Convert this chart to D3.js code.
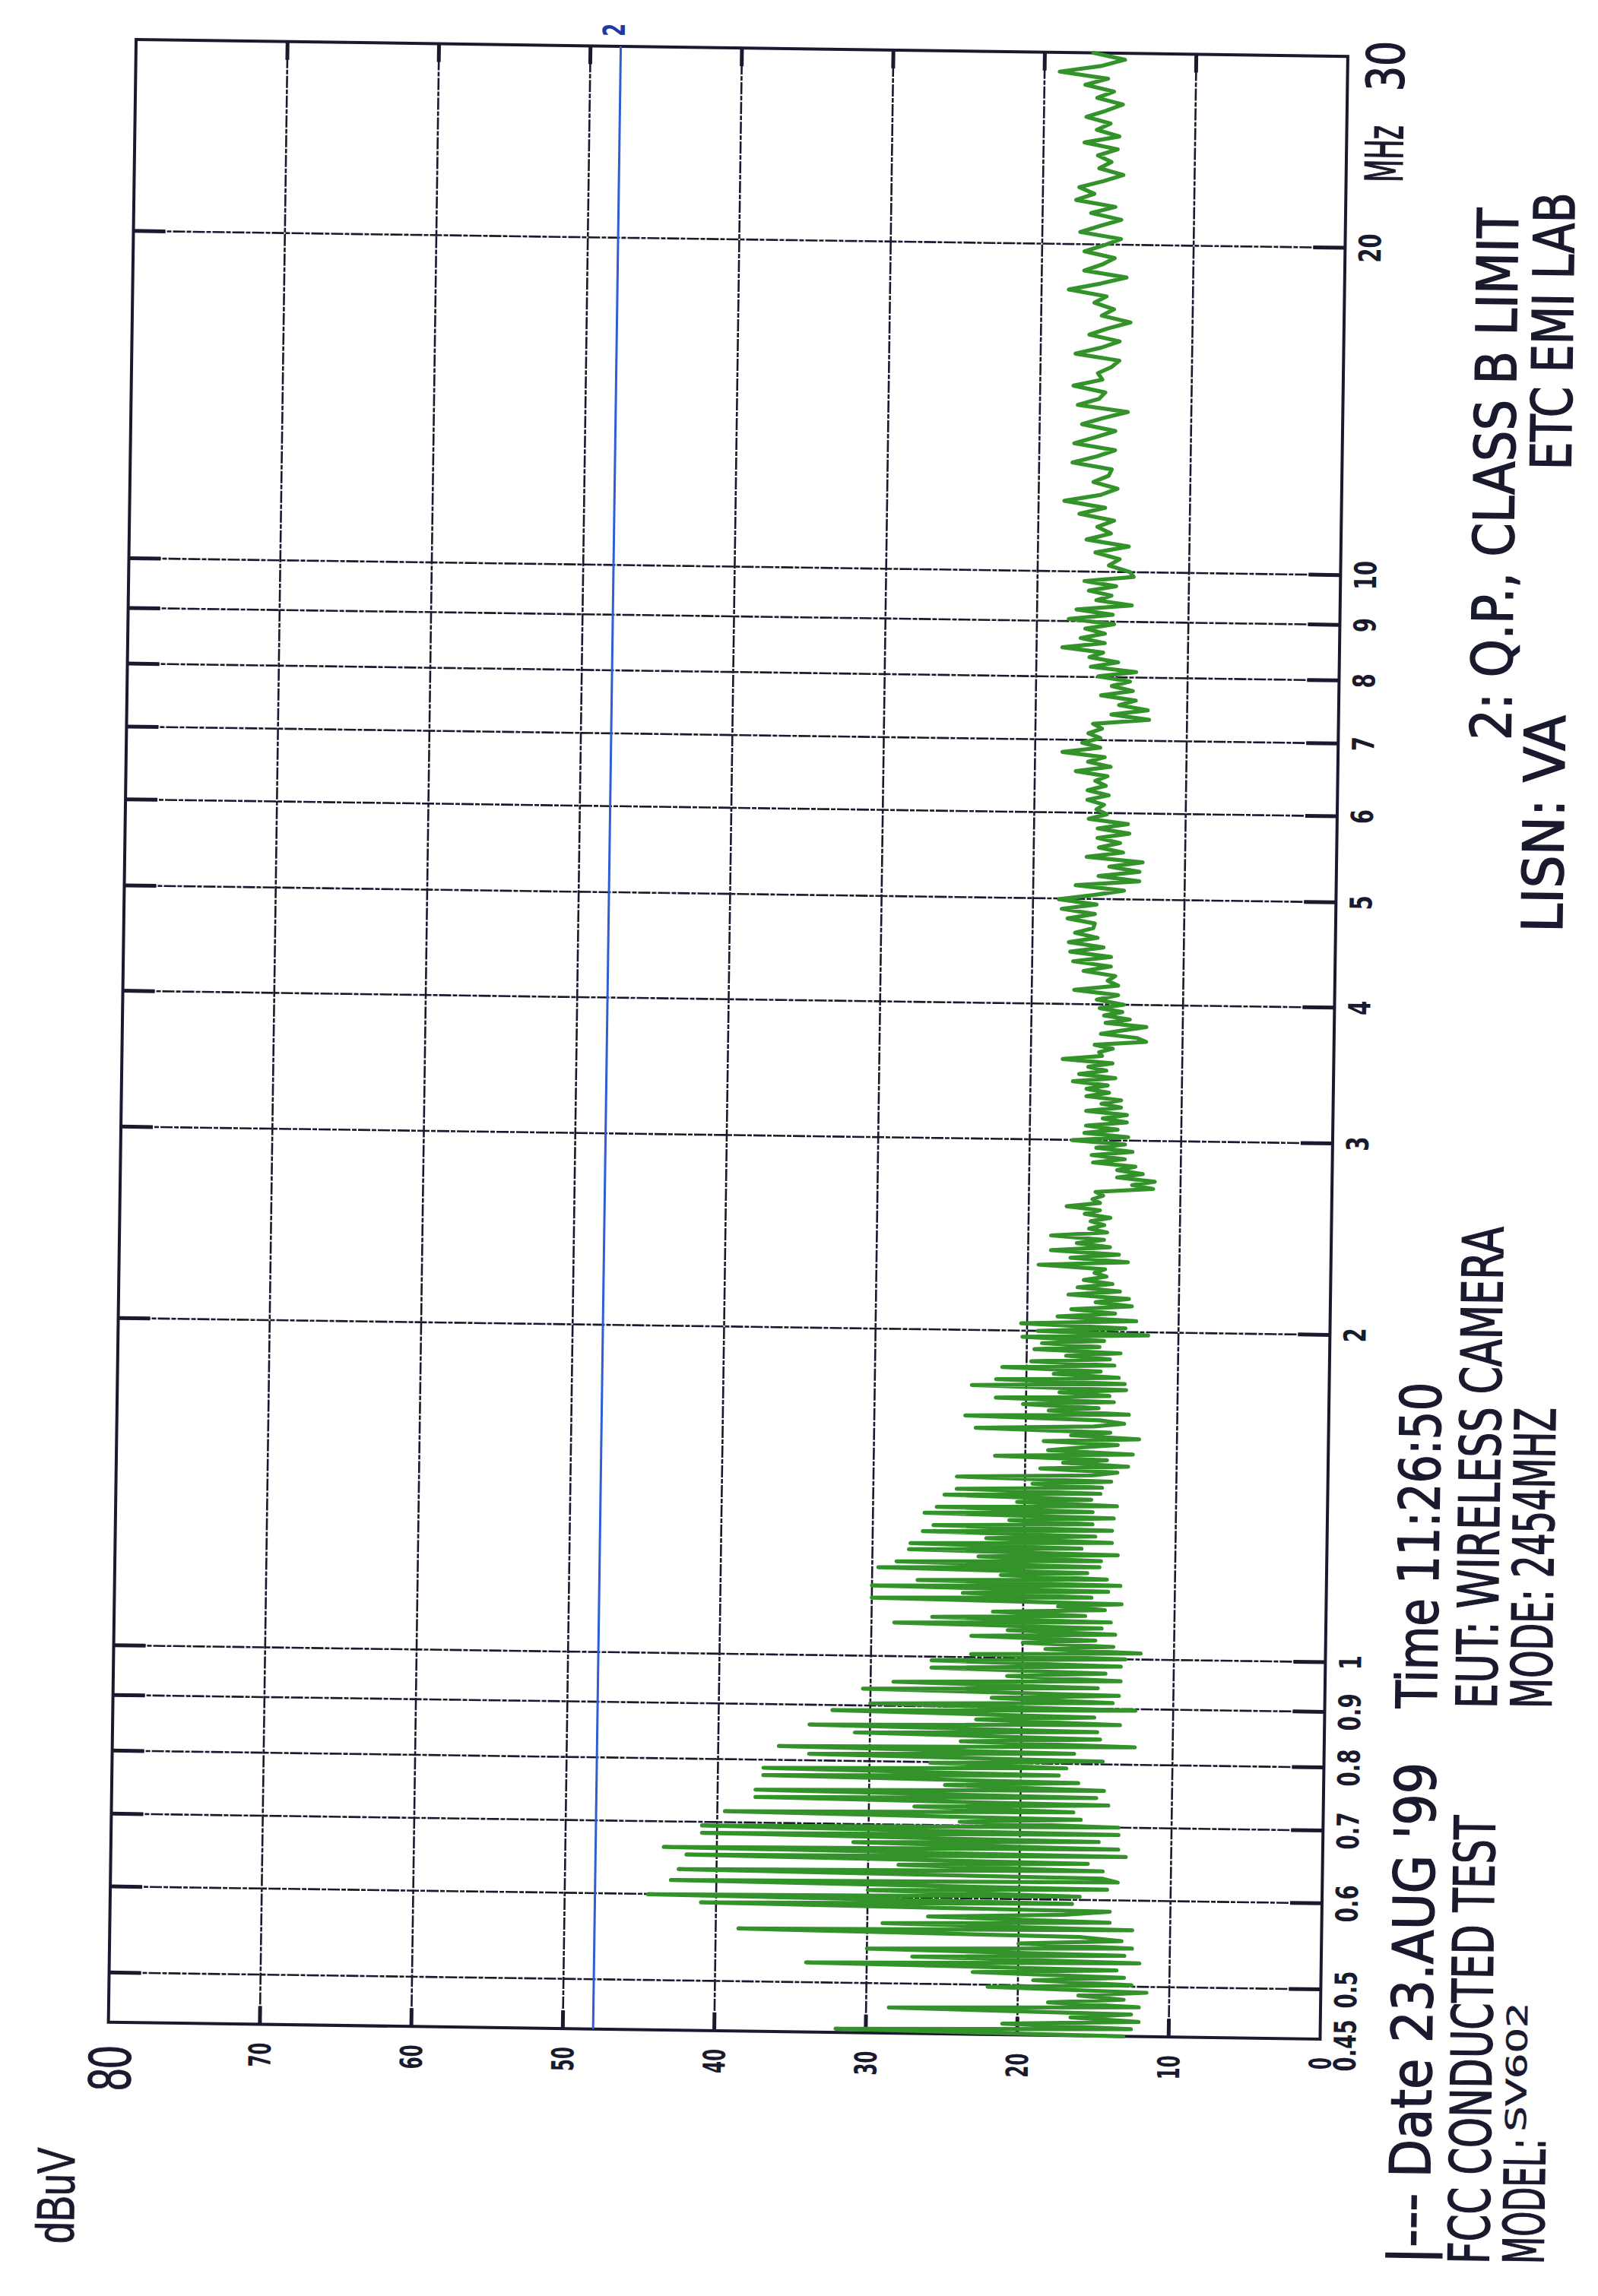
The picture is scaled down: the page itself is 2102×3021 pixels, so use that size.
<!DOCTYPE html>
<html><head><meta charset="utf-8">
<script src="https://cdn.jsdelivr.net/npm/d3@7/dist/d3.min.js"></script>
<style>html,body{margin:0;padding:0;background:#fff;}svg{display:block;}</style>
</head><body>
<script>
// ---------------- DATA ----------------
// Sweep levels (dBuV), band by band (log-frequency sweep)
const bandEdgesMHz = [0.45, 1, 2, 4, 10, 30];
const bandA = [13, 32, 12.5, 21, 12, 16.5, 12.5, 28.5, 12, 18, 13, 16, 11.5, 22, 12.5, 19, 13, 23, 13.5, 34,
  12, 27, 13, 30, 12.5, 20, 13.2, 16, 38.5, 12.5, 29, 14, 26, 17, 14, 41, 16.5, 44.5, 16, 30,
  14.2, 43, 13.5, 14.5, 42.5, 14.5, 28, 15.5, 42, 13, 43.5, 13.5, 31, 14.8, 41, 13.5, 41, 13.5, 24, 16,
  39.5, 16.5, 27, 14.2, 37.5, 15, 37.5, 14.5, 25, 16.2, 37, 17.5, 37, 17, 26, 14.6, 34, 16.5, 36, 12.5,
  24, 14.8, 31, 15, 34, 13.5, 23, 15.2, 32.5, 12.5, 30, 14, 22, 13.6, 30.5, 15, 28.5, 13.5, 21, 14.5,
  26, 13.5, 26];
const bandB = [13.2, 23.4, 12.2, 18.5, 14, 20, 15.2, 23.4, 13.9, 21, 14.8, 28.5, 14.2, 26, 15.9, 22, 14.6, 17.7, 13.5, 30,
  15.5, 24, 14.4, 30, 13.6, 27, 14.5, 21.5, 15.8, 29.6, 15, 28.4, 14.9, 23, 13.8, 27.6, 16.2, 27.5, 14.2, 22.5,
  15.3, 26.7, 14.2, 26, 15.5, 21, 14.1, 26.6, 15.5, 25.8, 13.9, 20.5, 15.6, 25.3, 15, 24.5, 14.9, 19.5, 14.3, 24.5,
  15.5, 13.9, 19, 13.2, 17.5, 14.6, 22, 12.9, 18.5, 16.5, 13.9, 18.8, 12.5, 17, 14.4, 23.3, 15.5, 13.5, 15.1, 24,
  13.2, 18.5, 15.2, 20.2, 14.2, 22, 14.5, 17.8, 13.4, 23.6, 13.5, 22, 13.9, 18.2, 15.1, 21.6, 14.2, 19.7, 14.5, 17.4,
  13.8, 19.5, 15.2, 19, 14.9, 20.3, 12];
const bandC = [19.3, 13.5, 20.4, 12.8, 18, 14.2, 17.1, 13.1, 15.5, 13.3, 17.3, 13.9, 16.7, 14.4, 16.3, 14.8, 15.6, 14.9, 19.3, 13.4,
  17.2, 14, 18.5, 14.6, 16.8, 15, 18.5, 14.8, 16, 15, 15.9, 14.6, 16.3, 15.3, 17.5, 15.3, 15.8, 15.1, 15.6, 11.8,
  13.2, 11.7, 14.2, 12.5, 14.2, 13, 15.8, 13.7, 15.9, 13.2, 15.6, 13.7, 17.2, 13.5, 16.4, 14.2, 16.3, 13.6, 15.2, 13.6,
  16.3, 14, 15.3, 14, 16.3, 14.8, 16.3, 14.9, 17.2, 14.4, 16.8, 15, 16.2, 14.6, 17.9, 15.3, 15.5, 14.6, 15.8, 12.4,
  13, 15.4, 14, 12.4, 15.1, 13.5, 15.2, 14, 15.5];
const bandD = [13.9, 15.7, 14.3, 17.2, 14.3, 15.0, 14.5, 16.6, 14.8, 17.3, 14.8, 17.5, 15.3, 17.6, 15.7, 17.2, 16.0, 15.9, 17.7, 15.9,
  18.1, 15.8, 18.3, 16.0, 14.0, 17.2, 13.0, 15.7, 13.0, 15.0, 12.8, 16.5, 14.1, 15.7, 14.3, 15.8, 13.7, 15.8, 13.8, 16.4,
  15.2, 15.9, 15.4, 16.5, 15.1, 16.5, 15.3, 16.0, 15.2, 17.3, 15.0, 16.5, 15.4, 18.2, 15.7, 16.9, 15.7, 16.5, 15.6, 16.2,
  12.5, 15.0, 12.6, 14.5, 13.4, 15.7, 13.6, 15.0, 13.8, 15.9, 13.4, 16.4, 14.6, 16.5, 15.6, 18.3, 15.5, 17.1, 15.5, 16.8,
  14.9, 17.9, 15.0, 17.4, 13.75, 16.1, 15.1, 16.6, 14.8, 16.9, 13.65];
const bandE = [13.9, 15.3, 14.6, 16.2, 14.0, 16.8, 15.2, 16.1, 15.0, 17.3, 15.6, 18.3, 15.9, 14.8, 16.4, 15.4, 15.2, 17.8, 16.2, 15.0,
  17.7, 16.3, 15.0, 17.2, 15.8, 14.2, 17.5, 16.1, 15.7, 17.8, 15.9, 16.2, 15.3, 14.8, 17.7, 16.0, 14.8, 16.8, 15.6, 14.1,
  16.0, 15.2, 16.5, 15.7, 18.2, 16.1, 14.4, 17.2, 16.0, 15.2, 17.2, 15.9, 14.8, 17.5, 16.2, 14.8, 16.8, 15.2, 17.8, 16.6,
  17.6, 16.0, 14.7, 16.3, 15.5, 16.4, 15.1, 17.3, 15.0, 16.5, 15.6, 17.2, 15.9, 14.8, 16.5, 15.4, 17.3, 15.8, 19.0, 16.2,
  14.7, 16.8];
const bandLevels = [bandA, bandB, bandC, bandD, bandE];

const limitLevel = 48;                 // 2: Q.P., CLASS B LIMIT (dBuV)
const limitLabel = "2";
const freqDomain = [0.45, 30];
const levelDomain = [0, 80];
const freqGridMHz = [0.5, 0.6, 0.7, 0.8, 0.9, 1, 2, 3, 4, 5, 6, 7, 8, 9, 10, 20];
const freqTickValues = [0.45, 0.5, 0.6, 0.7, 0.8, 0.9, 1, 2, 3, 4, 5, 6, 7, 8, 9, 10, 20];
const freqTickLabels = ["0.45", "0.5", "0.6", "0.7", "0.8", "0.9", "1", "2", "3", "4", "5", "6", "7", "8", "9", "10", "20"];
const levelGrid = [70, 60, 50, 40, 30, 20, 10];
const levelTickValues = [70, 60, 50, 40, 30, 20, 10, 0];
const levelTickLabels = ["70", "60", "50", "40", "30", "20", "10", "0"];
const topLevelLabel = "80";
const topFreqLabel = "30";
const unitFreq = "MHz";
const unitLevel = "dBuV";
const noteTexts = ["|--- Date 23.AUG '99", "Time 11:26:50", "FCC CONDUCTED TEST", "EUT: WIRELESS CAMERA",
  "MODEL:", "SV602", "MODE: 2454MHZ", "2: Q.P., CLASS B LIMIT", "LISN: VA", "ETC EMI LAB"];

// ---------------- DRAWING ----------------
const W = 2609, H = 1594;
const ink = "#1a1a2e", green = "#33922a", blue = "#2e5fd2";
const plotFont = "'Liberation Sans Narrow','DejaVu Sans Condensed','Liberation Sans','DejaVu Sans',sans-serif";
const tickFont = "'DejaVu Sans Condensed','DejaVu Sans',sans-serif";

const svg = d3.select("body").append("svg").attr("width", 2102).attr("height", 3021)
  .style("background", "#fff");
const page = svg.append("g").attr("transform", "rotate(0.8 957.75 1367.5)");
const chart = page.append("g").attr("transform", "translate(160.75,2672) rotate(-90)");

const x = d3.scaleLog().domain(freqDomain).range([0, W]);
const y = d3.scaleLinear().domain(levelDomain).range([H, 0]);

// grid lines
const grid = chart.append("g");
const dash = "16 2 6 2";
grid.selectAll("line.fg").data(freqGridMHz).join("line").attr("class", "fg")
  .attr("x1", d => x(d)).attr("x2", d => x(d)).attr("y1", 0).attr("y2", H)
  .attr("stroke", ink).attr("stroke-width", 2.6).attr("stroke-dasharray", dash);
grid.selectAll("line.lg").data(levelGrid).join("line").attr("class", "lg")
  .attr("x1", 0).attr("x2", W).attr("y1", d => y(d)).attr("y2", d => y(d))
  .attr("stroke", ink).attr("stroke-width", 2.6).attr("stroke-dasharray", dash);
// heavier tick ends
[[0, 42], [H - 42, H]].forEach(([a, b]) => {
  grid.append("g").selectAll("line").data(freqGridMHz).join("line")
    .attr("x1", d => x(d)).attr("x2", d => x(d)).attr("y1", a).attr("y2", b)
    .attr("stroke", ink).attr("stroke-width", 5);
});
[[0, 24], [W - 24, W]].forEach(([a, b]) => {
  grid.append("g").selectAll("line").data(levelGrid).join("line")
    .attr("x1", a).attr("x2", b).attr("y1", d => y(d)).attr("y2", d => y(d))
    .attr("stroke", ink).attr("stroke-width", 5);
});
// frame
chart.append("rect").attr("x", 0).attr("y", 0).attr("width", W).attr("height", H)
  .attr("fill", "none").attr("stroke", ink).attr("stroke-width", 4);

// limit line
chart.append("line").attr("x1", x(freqDomain[0])).attr("x2", x(freqDomain[1]))
  .attr("y1", y(limitLevel)).attr("y2", y(limitLevel))
  .attr("stroke", blue).attr("stroke-width", 3);
chart.append("text").attr("x", x(freqDomain[1]) + 13).attr("y", y(limitLevel) + 5)
  .attr("font-family", tickFont).attr("font-weight", "bold").attr("font-size", 40)
  .attr("textLength", 17).attr("lengthAdjust", "spacingAndGlyphs")
  .attr("fill", "#1d3aa8").text(limitLabel);

// trace
const trace = [];
bandLevels.forEach((lv, k) => {
  const f0 = bandEdgesMHz[k], f1 = bandEdgesMHz[k + 1];
  const n = (k === bandLevels.length - 1) ? lv.length - 1 : lv.length;
  lv.forEach((v, i) => trace.push({ f: f0 * Math.pow(f1 / f0, i / n), v }));
});
chart.append("path").datum(trace)
  .attr("d", d3.line().x(d => x(d.f)).y(d => y(d.v)))
  .attr("fill", "none").attr("stroke", green).attr("stroke-width", 5.2)
  .attr("stroke-linejoin", "round").attr("stroke-linecap", "round");

// tick labels: frequency
const charW = (s, dw, pw) => [...s].reduce((a, c) => a + (c === "." ? pw : dw), 0);
chart.append("g").selectAll("text").data(freqTickValues).join("text")
  .attr("x", (d, i) => x(d) - (i === 0 ? 8 : 0)).attr("y", H + 47)
  .attr("text-anchor", "middle")
  .attr("font-family", tickFont).attr("font-weight", "bold").attr("font-size", 40)
  .attr("textLength", (d, i) => charW(freqTickLabels[i], 19, 11)).attr("lengthAdjust", "spacingAndGlyphs")
  .attr("fill", ink).text((d, i) => freqTickLabels[i]);
// tick labels: level
chart.append("g").selectAll("text").data(levelTickValues).join("text")
  .attr("x", -24).attr("y", d => y(d) + 14.5)
  .attr("text-anchor", "end")
  .attr("font-family", tickFont).attr("font-weight", "bold").attr("font-size", 40)
  .attr("textLength", (d, i) => charW(levelTickLabels[i], 16, 9)).attr("lengthAdjust", "spacingAndGlyphs")
  .attr("fill", ink).text((d, i) => levelTickLabels[i]);

// large labels
function bigText(str, u, v, size, len, fam, sw) {
  chart.append("text").attr("x", u).attr("y", v)
    .attr("font-family", fam || plotFont).attr("font-size", size)
    .attr("textLength", len).attr("lengthAdjust", "spacingAndGlyphs")
    .attr("fill", ink).attr("stroke", ink).attr("stroke-width", sw === undefined ? 1.4 : sw)
    .text(str);
}
bigText(topLevelLabel, -90, y(80) + 30, 80, 59, "'Liberation Sans','DejaVu Sans',sans-serif", 1);
bigText(unitLevel, -292, -42, 70, 126, "'Liberation Sans','DejaVu Sans',sans-serif", 1);
bigText(unitFreq, x(30) - 165, H + 74, 68, 75);
bigText(topFreqLabel, x(30) - 45, H + 74, 68, 66);

// notes
const noteLayout = [
  { u: -294, v: 1741, len: 660, size: 74 },
  { u: 437, v: 1741, len: 429, size: 74 },
  { u: -293, v: 1820, len: 590, size: 74 },
  { u: 438, v: 1820, len: 634, size: 74 },
  { u: -292, v: 1892, len: 165, size: 74 },
  { u: -118, v: 1866, len: 170, size: 37 },
  { u: 439, v: 1892, len: 396, size: 74 },
  { u: 1712, v: 1821, len: 700, size: 74 },
  { u: 1460, v: 1892, len: 286, size: 74 },
  { u: 2069, v: 1895, len: 365, size: 74 }
];
noteTexts.forEach((t, i) => bigText(t, noteLayout[i].u, noteLayout[i].v, noteLayout[i].size, noteLayout[i].len,
  null, i === 5 ? 0.6 : 1.4));
</script>
</body></html>
